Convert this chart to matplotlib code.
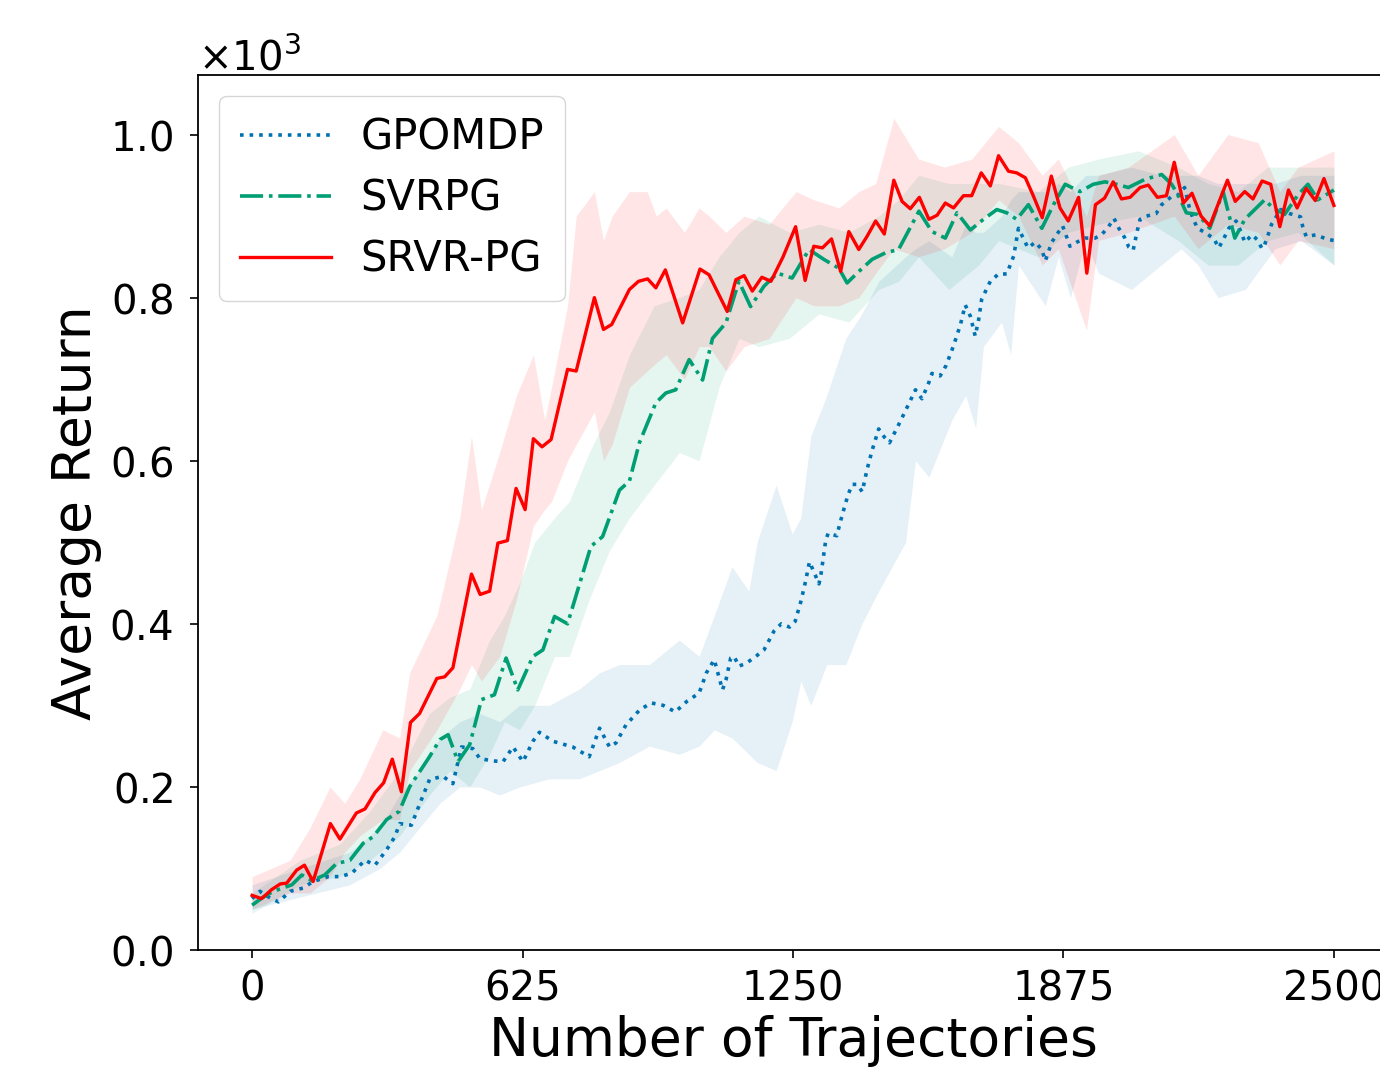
import numpy as np
import matplotlib
matplotlib.use("Agg")
import matplotlib.pyplot as plt
from matplotlib.ticker import ScalarFormatter

# ---- data (average return) ----
srvr_x = [0, 22, 45, 65, 80, 103, 121, 141, 181, 203,
          241, 261, 284, 304, 324, 345, 366, 387, 427, 445,
          464, 507, 527, 549, 568, 590, 610, 631, 650, 670,
          691, 729, 749, 791, 812, 831, 872, 893, 914, 933,
          955, 976, 995, 1035, 1056, 1098, 1118, 1137, 1156, 1178,
          1199, 1227, 1256, 1278, 1298, 1318, 1339, 1360, 1379, 1402,
          1421, 1441, 1461, 1483, 1502, 1521, 1542, 1564, 1583, 1602,
          1621, 1644, 1663, 1685, 1706, 1725, 1748, 1767, 1787, 1806,
          1826, 1847, 1867, 1886, 1910, 1929, 1949, 1970, 1990, 2009,
          2029, 2052, 2071, 2092, 2113, 2131, 2152, 2172, 2193, 2213,
          2232, 2254, 2272, 2294, 2313, 2334, 2354, 2375, 2395, 2415,
          2436, 2457, 2477, 2500]
srvr_y = [67, 63, 74, 81, 82, 98, 104, 84, 155, 136,
          168, 173, 193, 205, 234, 194, 279, 290, 333, 335,
          346, 461, 436, 440, 499, 502, 566, 540, 627, 617,
          626, 712, 710, 800, 761, 767, 810, 820, 823, 812,
          834, 800, 769, 835, 828, 783, 822, 827, 808, 825,
          820, 850, 887, 821, 863, 861, 872, 832, 881, 859,
          875, 894, 878, 944, 918, 909, 923, 896, 901, 916,
          910, 925, 925, 953, 937, 974, 955, 953, 947, 924,
          898, 949, 910, 894, 923, 830, 914, 922, 942, 921,
          923, 935, 938, 923, 925, 966, 916, 928, 900, 888,
          914, 944, 918, 930, 921, 943, 939, 887, 932, 910,
          934, 919, 946, 913]

svrpg_x = [0, 26, 49, 71, 92, 115, 138, 168, 195, 226,
           257, 280, 311, 340, 364, 410, 434, 453, 476, 503,
           530, 560, 587, 614, 649, 672, 699, 729, 783, 810,
           849, 872, 895, 933, 956, 979, 1010, 1041, 1064, 1095,
           1125, 1152, 1183, 1214, 1248, 1287, 1321, 1356, 1375, 1402,
           1433, 1464, 1494, 1541, 1571, 1602, 1629, 1660, 1690, 1721,
           1744, 1767, 1794, 1825, 1852, 1879, 1913, 1944, 1971, 1998,
           2025, 2063, 2102, 2125, 2140, 2159, 2186, 2213, 2244, 2271,
           2294, 2340, 2359, 2386, 2417, 2440, 2463, 2500]
svrpg_y = [55, 65, 72, 76, 80, 92, 85, 92, 106, 110,
           131, 139, 160, 170, 200, 237, 258, 264, 231, 252,
           307, 313, 358, 319, 360, 368, 409, 400, 495, 507,
           564, 575, 622, 671, 683, 687, 724, 699, 750, 769,
           820, 789, 814, 830, 824, 859, 847, 836, 818, 832,
           847, 855, 859, 906, 881, 873, 904, 883, 896, 908,
           904, 896, 914, 885, 914, 939, 930, 939, 942, 939,
           935, 945, 951, 939, 926, 904, 902, 885, 930, 873,
           896, 920, 910, 902, 926, 939, 920, 932]

gpomdp_x = [0, 18, 38, 61, 88, 118, 141, 176, 203, 230,
            261, 284, 311, 330, 341, 368, 391, 410, 441, 464,
            484, 510, 526, 553, 580, 603, 626, 649, 664, 695,
            741, 779, 803, 826, 841, 864, 895, 922, 950, 978,
            1005, 1033, 1050, 1068, 1081, 1087, 1095, 1106, 1114, 1125,
            1143, 1164, 1183, 1206, 1223, 1242, 1255, 1268, 1279, 1288,
            1298, 1310, 1315, 1325, 1331, 1351, 1364, 1377, 1387, 1398,
            1410, 1421, 1433, 1448, 1461, 1473, 1494, 1516, 1533, 1548,
            1564, 1571, 1590, 1604, 1621, 1637, 1648, 1660, 1671, 1679,
            1686, 1706, 1725, 1744, 1760, 1771, 1783, 1793, 1810, 1825,
            1833, 1848, 1873, 1882, 1890, 1906, 1925, 1948, 1963, 1979,
            1992, 2003, 2016, 2026, 2036, 2046, 2052, 2067, 2089, 2102,
            2125, 2138, 2155, 2167, 2175, 2185, 2205, 2223, 2234, 2246,
            2257, 2274, 2285, 2294, 2311, 2323, 2334, 2340, 2348, 2356,
            2377, 2398, 2423, 2428, 2436, 2459, 2482, 2500]
gpomdp_y = [63, 72, 65, 59, 72, 76, 84, 90, 90, 94,
            110, 104, 123, 139, 155, 153, 184, 209, 213, 204,
            249, 247, 235, 232, 231, 249, 231, 256, 267, 256,
            249, 237, 272, 249, 254, 276, 294, 303, 300, 292,
            305, 315, 340, 356, 331, 319, 331, 358, 360, 348,
            352, 360, 368, 391, 400, 396, 403, 427, 452, 476,
            464, 449, 462, 500, 511, 508, 534, 558, 571, 571,
            562, 589, 613, 639, 629, 622, 644, 668, 687, 676,
            696, 707, 704, 717, 741, 767, 791, 777, 753, 773,
            798, 820, 829, 829, 851, 885, 872, 861, 868, 859,
            845, 868, 888, 875, 863, 868, 873, 873, 877, 887,
            897, 885, 874, 862, 858, 883, 896, 900, 903, 914,
            924, 925, 935, 908, 896, 885, 879, 872, 861, 873,
            885, 894, 881, 868, 877, 871, 860, 865, 877, 890,
            908, 903, 899, 887, 875, 877, 872, 870]

# shaded spread (lower / upper edge)
srvr_band_x = [0, 88, 134, 180, 214, 249, 302, 341, 364, 427,
               480, 507, 530, 572, 611, 650, 676, 692, 729, 749,
               791, 812, 832, 872, 913, 934, 957, 999, 1033, 1056,
               1095, 1137, 1195, 1257, 1298, 1356, 1402, 1441, 1483, 1540,
               1600, 1663, 1725, 1771, 1826, 1863, 1928, 1956, 2025, 2131,
               2186, 2255, 2325, 2375, 2417, 2500]
srvr_lo = [50, 70, 70, 90, 120, 140, 160, 160, 220, 270,
           320, 350, 330, 360, 430, 520, 540, 550, 600, 620,
           660, 600, 620, 690, 710, 720, 730, 700, 740, 740,
           710, 740, 750, 800, 790, 790, 800, 830, 860, 850,
           860, 880, 920, 900, 840, 860, 760, 870, 880, 900,
           860, 890, 880, 840, 870, 860]
srvr_hi = [90, 110, 150, 200, 180, 210, 270, 260, 340, 410,
           530, 630, 540, 610, 680, 730, 650, 690, 790, 900,
           930, 870, 900, 930, 930, 900, 910, 880, 910, 900,
           880, 900, 890, 930, 920, 910, 930, 940, 1020, 970,
           960, 970, 1010, 990, 950, 970, 900, 950, 960, 1000,
           950, 1000, 990, 930, 960, 980]

svrpg_band_x = [0, 111, 203, 272, 341, 410, 457, 503, 549, 583,
                618, 653, 699, 733, 779, 826, 872, 929, 987, 1033,
                1079, 1125, 1171, 1241, 1310, 1379, 1448, 1494, 1540, 1610,
                1679, 1725, 1817, 1886, 1956, 2048, 2140, 2209, 2278, 2347,
                2417, 2500]
svrpg_lo = [45, 80, 90, 110, 140, 190, 220, 200, 240, 280,
            270, 300, 360, 360, 430, 490, 530, 570, 610, 600,
            690, 750, 740, 750, 780, 770, 810, 820, 850, 810,
            840, 870, 850, 880, 890, 900, 870, 840, 840, 870,
            880, 840]
svrpg_hi = [70, 110, 130, 170, 220, 290, 310, 320, 380, 410,
            450, 500, 530, 550, 610, 660, 730, 790, 800, 810,
            850, 880, 900, 880, 890, 880, 900, 920, 950, 940,
            940, 940, 930, 960, 970, 980, 960, 940, 930, 960,
            960, 960]

gpomdp_band_x = [0, 111, 226, 295, 341, 387, 434, 480, 526, 572,
                 618, 687, 756, 803, 849, 918, 987, 1033, 1068, 1109,
                 1148, 1167, 1211, 1248, 1268, 1291, 1328, 1372, 1409, 1448,
                 1510, 1533, 1564, 1617, 1649, 1672, 1690, 1732, 1753, 1771,
                 1833, 1863, 1891, 1926, 1956, 2032, 2101, 2147, 2186, 2232,
                 2295, 2364, 2424, 2500]
gpomdp_lo = [50, 65, 80, 100, 120, 150, 180, 200, 200, 190,
             200, 210, 210, 220, 230, 250, 240, 250, 270, 260,
             240, 230, 220, 280, 330, 300, 350, 350, 400, 440,
             500, 600, 580, 650, 680, 640, 740, 770, 730, 840,
             790, 850, 800, 870, 830, 810, 840, 860, 840, 800,
             810, 860, 870, 840]
gpomdp_hi = [80, 100, 120, 150, 190, 220, 260, 280, 290, 280,
             300, 300, 320, 340, 350, 350, 380, 360, 410, 470,
             440, 500, 570, 510, 530, 630, 680, 750, 780, 820,
             850, 860, 870, 850, 890, 880, 880, 900, 920, 930,
             930, 940, 930, 950, 950, 960, 950, 950, 950, 940,
             940, 940, 950, 950]

blue = "#0072B2"
green = "#009E73"
red = "red"

fig = plt.figure(figsize=(13.8, 10.71), dpi=100)
ax = fig.add_axes([198 / 1380, 121 / 1071, 1190 / 1380, 875 / 1071])

ax.fill_between(gpomdp_band_x, gpomdp_lo, gpomdp_hi, color=blue, alpha=0.1, linewidth=0)
ax.fill_between(svrpg_band_x, svrpg_lo, svrpg_hi, color=green, alpha=0.1, linewidth=0)
ax.fill_between(srvr_band_x, srvr_lo, srvr_hi, color=red, alpha=0.1, linewidth=0)

ax.plot(gpomdp_x, gpomdp_y, linestyle=":", color=blue, linewidth=2.6, label="GPOMDP")
ax.plot(svrpg_x, svrpg_y, linestyle="-.", color=green, linewidth=2.6, label="SVRPG")
ax.plot(srvr_x, srvr_y, linestyle="-", color=red, linewidth=2.4, label="SRVR-PG")

ax.set_xlim(-125, 2625)
ax.set_ylim(0, 1073)
ax.set_xticks([0, 625, 1250, 1875, 2500])
ax.set_yticks([0, 200, 400, 600, 800, 1000])

fmt = ScalarFormatter(useMathText=True)
fmt.set_powerlimits((3, 3))
ax.yaxis.set_major_formatter(fmt)
ax.yaxis.get_offset_text().set_fontsize(29)

ax.tick_params(labelsize=29, length=6, width=1.2)
ax.tick_params(axis="y", pad=12)
ax.tick_params(axis="x", pad=8)
for s in ax.spines.values():
    s.set_linewidth(1.3)

ax.set_xlabel("Number of Trajectories", fontsize=38.5, labelpad=4)
ax.set_ylabel("Average Return", fontsize=38.5, labelpad=5)

ax.legend(loc="upper left", fontsize=30, handlelength=2.2, handletextpad=0.7,
          borderaxespad=0.5, labelspacing=0.45, borderpad=0.5)

fig.savefig("out.png", dpi=100)
